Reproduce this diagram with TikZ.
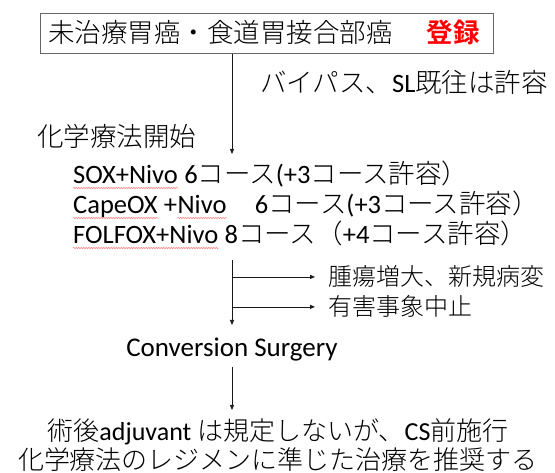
\documentclass[tikz,border=0pt]{standalone}
\usepackage{fontspec}
\setmainfont{Noto Sans CJK JP}[UprightFont={* Light},BoldFont={* Bold}]
\newfontfamily\latf{Carlito}
\newcommand\lat[1]{{\latf #1}}
\usetikzlibrary{arrows.meta,decorations.pathmorphing}
\begin{document}
\begin{tikzpicture}[x=1pt,y=-1pt,
  txt/.style={anchor=base west,inner sep=0pt,font=\fontsize{26.5}{30}\selectfont},
  ctxt/.style={anchor=base,inner sep=0pt,font=\fontsize{26.5}{30}\selectfont},
  btxt/.style={anchor=base,inner sep=0pt,font=\fontsize{26}{28}\selectfont},
  sidetxt/.style={anchor=base west,inner sep=0pt,font=\fontsize{24}{28}\selectfont},
  arr/.style={draw=black!90,line width=0.75pt,-{Triangle[length=5pt,width=4pt]}},
  squig/.style={draw=red!45,line width=0.6pt,decorate,decoration={snake,amplitude=0.7pt,segment length=2.5pt}},
  boxst/.style={draw=black!60,line width=0.8pt,anchor=north west,minimum width=453pt,minimum height=40pt,inner sep=0pt}]
\useasboundingbox (0,0) rectangle (555,473);
% top box
\node[boxst] (box) at (40,13) {};
\node[txt] (boxt) at (48,43) {未治療胃癌・食道胃接合部癌\hspace{34pt}\textcolor{red}{\bfseries 登録}};
% arrow 1
\coordinate (a1e) at (232,154);
\draw[arr] (box.south -| a1e) -- (a1e);
\node[txt] (bp) at (260,93) {バイパス、\lat{SL}既往は許容};
\node[txt] (chemo) at (37,147) {化学療法開始};
% regimens
\node[txt] (s1) at (73,184) {\lat{SOX+Nivo}};
\node[txt] (s1r) at (s1.base east) {\lat{\ 6}コース\lat{(+3}コース許容）};
\node[txt] (c1) at (73,214) {\lat{CapeOX}};
\node[txt] (c2) at (c1.base east) {\lat{\ +}};
\node[txt] (c3) at (c2.base east) {\lat{Nivo}};
\node[txt] (c4) at (c3.base east) {\hspace{28pt}\lat{6}コース\lat{(+3}コース許容）};
\node[txt] (f1) at (73,244) {\lat{FOLFOX+Nivo}};
\node[txt] (f2) at (f1.base east) {\lat{\ 8}コース（\lat{+4}コース許容）};
\draw[squig] ([yshift=-4pt]s1.base west) -- ([yshift=-4pt]s1.base east);
\draw[squig] ([yshift=-4pt]c1.base west) -- ([yshift=-4pt]c1.base east);
\draw[squig] ([yshift=-4pt]c3.base west) -- ([yshift=-4pt]c3.base east);
\draw[squig] ([yshift=-4pt]f1.base west) -- ([yshift=-4pt]f1.base east);
% arrow 2 with side branches
\coordinate (a2s) at (232,260);
\coordinate (a2e) at (232,325);
\draw[arr] (a2s) -- (a2e);
\node[sidetxt] (side1) at (328,286) {腫瘍増大、新規病変};
\node[sidetxt] (side2) at (328,316) {有害事象中止};
\draw[arr] (a2s |- side1.west) -- ([xshift=-13pt]side1.west);
\draw[arr] (a2s |- side2.west) -- ([xshift=-13pt]side2.west);
% conversion surgery
\node[ctxt,font=\fontsize{27}{30}\selectfont] (cs) at (232,357) {\lat{Conversion Surgery}};
\coordinate (a3s) at (232,367);
\coordinate (a3e) at (232,410);
\draw[arr] (a3s) -- (a3e);
% bottom
\node[btxt] (b1) at (278,441) {術後\lat{adjuvant }は規定しないが、\lat{CS}前施行};
\node[btxt] (b2) at (278,470) {化学療法のレジメンに準じた治療を推奨する};
\end{tikzpicture}
\end{document}
